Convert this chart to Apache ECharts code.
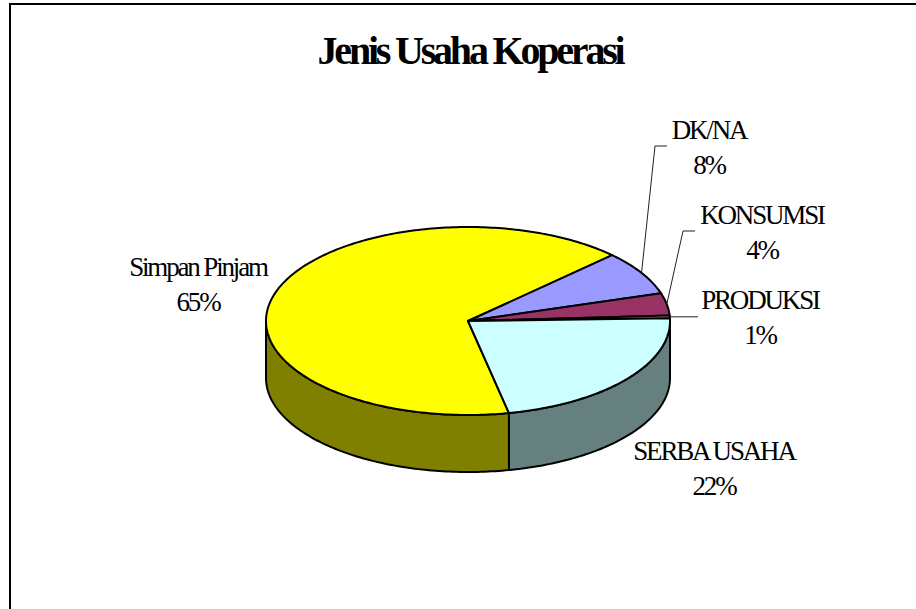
<!DOCTYPE html>
<html>
<head>
<meta charset="utf-8">
<style>
html,body{margin:0;padding:0;background:#fff;overflow:hidden}
#c{width:916px;height:609px}
#c svg text{letter-spacing:-0.08em}
</style>
<script src="https://cdn.jsdelivr.net/npm/echarts@6/dist/echarts.min.js"></script>
</head>
<body>
<div id="c"></div>
<script>
var titleText = 'Jenis Usaha Koperasi';
var categories = ['Simpan Pinjam', 'DK/NA', 'KONSUMSI', 'PRODUKSI', 'SERBA USAHA'];
var shares = [65.9, 7.6, 3.8, 0.5, 22.2];
var shareLabels = ['65%', '8%', '4%', '1%', '22%'];
var topColors = ['#FFFF00', '#9999FF', '#993366', '#FFFFCC', '#CCFFFF'];
var sideColors = ['#808000', '#4D4D80', '#4D1A33', '#808066', '#668080'];

// layout of the tilted pie
var CX = 468, CY = 321, RX = 202, RY = 94, DEPTH = 57, START = -78.3;
var labelCentres = [[198, 284], [709, 147], [762, 232], [760, 317], [714, 468]];
var leaderBends = [null, [[655, 146], [667, 146]], [[683, 231], [695, 231]], [[698, 316.8]], null];

var total = shares.reduce(function (a, b) { return a + b; }, 0);
function pt(deg, dy) {
  var r = deg * Math.PI / 180;
  return [CX + RX * Math.cos(r), CY - RY * Math.sin(r) + (dy || 0)];
}
function arc(from, to, dy) {
  var n = Math.max(1, Math.ceil(Math.abs(to - from))), out = [];
  for (var i = 0; i <= n; i++) out.push(pt(from + (to - from) * i / n, dy));
  return out;
}
function renderSlice(params, api) {
  var i = params.dataIndex, before = 0;
  for (var k = 0; k < i; k++) before += shares[k];
  var a1 = START - before / total * 360;
  var a2 = a1 - api.value(0) / total * 360;
  if (a2 < -360) { a1 += 360; a2 += 360; }
  var children = [];
  var lineStyle = { stroke: '#000', lineWidth: 2, lineJoin: 'round' };
  // side wall: only the part of the slice on the front half
  var hi = Math.min(a1, 0), lo = Math.max(a2, -180);
  if (hi > lo) {
    children.push({
      type: 'polygon', z2: 1,
      shape: { points: arc(hi, lo, 0).concat(arc(lo, hi, DEPTH)) },
      style: Object.assign({ fill: sideColors[i] }, lineStyle)
    });
  }
  children.push({
    type: 'polygon', z2: 2,
    shape: { points: [[CX, CY]].concat(arc(a1, a2, 0)) },
    style: Object.assign({ fill: topColors[i] }, lineStyle)
  });
  if (leaderBends[i]) {
    children.push({
      type: 'polyline', z2: 3,
      shape: { points: [pt((a1 + a2) / 2)].concat(leaderBends[i]) },
      style: { stroke: '#222', lineWidth: 1, fill: null }
    });
  }
  children.push({
    type: 'text', z2: 4,
    style: {
      x: labelCentres[i][0], y: labelCentres[i][1],
      text: categories[i] + '\n' + shareLabels[i],
      font: '27px "Liberation Serif"', lineHeight: 35,
      fill: '#000', align: 'center', verticalAlign: 'middle'
    }
  });
  return { type: 'group', children: children };
}

var chart = echarts.init(document.getElementById('c'), null, { renderer: 'svg' });
chart.setOption({
  animation: false,
  backgroundColor: '#fff',
  title: {
    text: titleText, left: 465, top: 25, textAlign: 'center',
    textStyle: { fontFamily: 'Liberation Serif', fontSize: 40, fontWeight: 'bold', color: '#000' }
  },
  graphic: [{
    type: 'polyline', silent: true,
    shape: { points: [[10, 609], [10, 4], [916, 4]] },
    style: { stroke: '#000', lineWidth: 2, fill: null }
  }],
  series: [{
    type: 'custom', coordinateSystem: 'none', renderItem: renderSlice,
    data: shares.map(function (v, i) { return { name: categories[i], value: [v] }; })
  }]
});
</script>
</body>
</html>
